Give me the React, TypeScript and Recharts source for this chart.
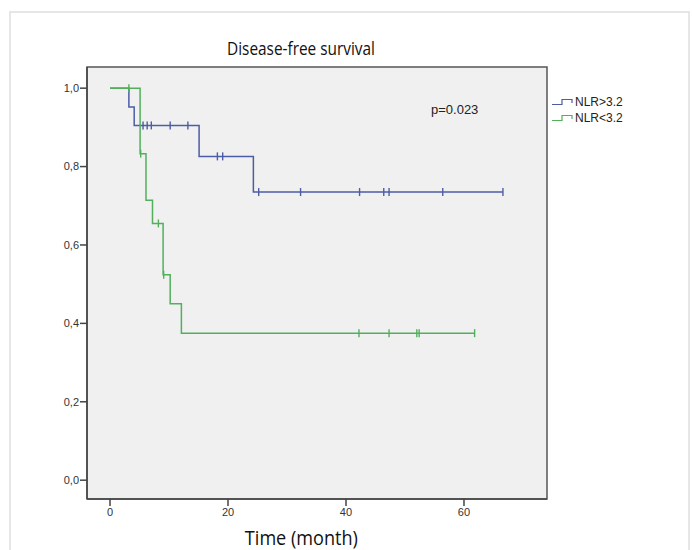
import React from 'react';
import { LineChart, Line, XAxis, YAxis, ReferenceArea } from 'recharts';

// NLR>3.2 (blue) Kaplan-Meier curve: time (months), survival, censored flag
const highTimes = [0, 3.2, 4.1, 5.6, 6.3, 7.0, 10.2, 13.2, 15.1, 18.2, 19.1, 24.3, 25.2, 32.3, 42.3, 46.4, 47.3, 56.4, 66.6];
const highSurv = [1, 0.952, 0.905, 0.905, 0.905, 0.905, 0.905, 0.905, 0.826, 0.826, 0.826, 0.735, 0.735, 0.735, 0.735, 0.735, 0.735, 0.735, 0.735];
const highCens = [0, 0, 0, 1, 1, 1, 1, 1, 0, 1, 1, 0, 1, 1, 1, 1, 1, 1, 1];

// NLR<3.2 (green)
const lowTimes = [0, 3.2, 5.1, 5.2, 6.1, 7.2, 8.2, 9.0, 9.1, 10.2, 12.1, 42.2, 47.3, 52.0, 52.4, 61.8];
const lowSurv = [1, 1, 0.833, 0.833, 0.714, 0.655, 0.655, 0.524, 0.524, 0.45, 0.375, 0.375, 0.375, 0.375, 0.375, 0.375];
const lowCens = [0, 1, 0, 1, 0, 0, 1, 0, 1, 0, 0, 1, 1, 1, 1, 1];

const xTicks = [0, 20, 40, 60];
const yTicks = [0, 0.2, 0.4, 0.6, 0.8, 1.0];
const seriesNames = ['NLR>3.2', 'NLR<3.2'];
const seriesColors = ['#4d5ca6', '#52b05c'];
const titleText = 'Disease-free survival';
const xLabelText = 'Time (month)';
const pValueText = 'p=0.023';

const X_DOMAIN: [number, number] = [-3.9, 74.07];
const Y_DOMAIN: [number, number] = [-0.048, 1.054];

const build = (t: number[], s: number[], c: number[]) => t.map((v, i) => ({ t: v, s: s[i], c: c[i] }));
const highData = build(highTimes, highSurv, highCens);
const lowData = build(lowTimes, lowSurv, lowCens);

const renderCensor = (color: string) => (props: any) => {
  const { cx, cy, payload, index } = props;
  if (!payload || !payload.c || cx == null || cy == null) return <g key={`e-${index}`} />;
  return <line key={`c-${index}`} x1={cx} x2={cx} y1={cy - 4} y2={cy + 4} stroke={color} strokeWidth={1.4} />;
};

const LegendBox = () => (
  <div style={{ position: 'absolute', left: 552, top: 94, fontFamily: 'Liberation Sans, Arial, sans-serif', fontSize: 12, color: '#222', lineHeight: '16px' }}>
    {seriesNames.map((n, i) => (
      <div key={n} style={{ display: 'flex', alignItems: 'center', height: 16 }}>
        <svg width={22} height={8} style={{ marginRight: 1 }}>
          <path d="M0,6.5 H10 V1.5 H20 V5" fill="none" stroke={seriesColors[i]} strokeWidth={1.2} />
        </svg>
        <span>{n}</span>
      </div>
    ))}
  </div>
);

const XLabel = (props: any) => {
  const { viewBox } = props;
  const cx = viewBox.x + viewBox.width * 0.466;
  return (
    <text x={cx} y={545} textAnchor="middle" fontFamily="Open Sans, sans-serif" fontSize={20} fill="#111"
      textLength={113} lengthAdjust="spacingAndGlyphs">{xLabelText}</text>
  );
};

export default function App() {
  return (
    <div style={{ position: 'absolute', left: 0, top: 0, width: 692, height: 550, background: '#fff', overflow: 'hidden' }}>
      <div style={{ position: 'absolute', left: 9, top: 11, width: 677, height: 560, border: '2px solid #e6e6e6' }} />
      <svg style={{ position: 'absolute', left: 0, top: 0 }} width={692} height={70}>
        <text x={301} y={55} textAnchor="middle" fontFamily="Open Sans, sans-serif" fontSize={18} fill="#111"
          textLength={148} lengthAdjust="spacingAndGlyphs">{titleText}</text>
      </svg>
      <div style={{ position: 'absolute', left: 0, top: 0 }}>
        <LineChart width={692} height={550} margin={{ top: 67, right: 145, bottom: 0, left: 0 }}>
          <ReferenceArea x1={X_DOMAIN[0]} x2={X_DOMAIN[1]} y1={Y_DOMAIN[0]} y2={Y_DOMAIN[1]}
            fill="#f0f0f0" fillOpacity={1} stroke="#555" strokeWidth={1.5} ifOverflow="visible" />
          <XAxis type="number" dataKey="t" domain={X_DOMAIN} ticks={xTicks} allowDataOverflow height={51}
            axisLine={{ stroke: '#444', strokeWidth: 1.5 }} tickLine={{ stroke: '#444', strokeWidth: 1.5 }} tickSize={7} tickMargin={2}
            tick={{ fontFamily: 'Liberation Sans, Arial, sans-serif', fontSize: 11, fill: '#333' }}
            label={<XLabel />} />
          <YAxis type="number" domain={Y_DOMAIN} ticks={yTicks} allowDataOverflow width={87}
            axisLine={{ stroke: '#444', strokeWidth: 1.5 }} tickLine={{ stroke: '#444', strokeWidth: 1.5 }} tickSize={7} tickMargin={1}
            tickFormatter={(v: number) => v.toFixed(1).replace('.', ',')}
            tick={{ fontFamily: 'Liberation Sans, Arial, sans-serif', fontSize: 11, fill: '#333' }} />
          <Line data={highData} dataKey="s" name={seriesNames[0]} type="stepAfter" stroke={seriesColors[0]} strokeWidth={1.5}
            dot={renderCensor(seriesColors[0])} activeDot={false} isAnimationActive={false} />
          <Line data={lowData} dataKey="s" name={seriesNames[1]} type="stepAfter" stroke={seriesColors[1]} strokeWidth={1.5}
            dot={renderCensor(seriesColors[1])} activeDot={false} isAnimationActive={false} />
        </LineChart>
      </div>
      <LegendBox />
      <div style={{ position: 'absolute', left: 431, top: 102, fontFamily: 'Liberation Sans, Arial, sans-serif', fontSize: 13, color: '#222', whiteSpace: 'nowrap' }}>
        {pValueText}
      </div>
    </div>
  );
}
